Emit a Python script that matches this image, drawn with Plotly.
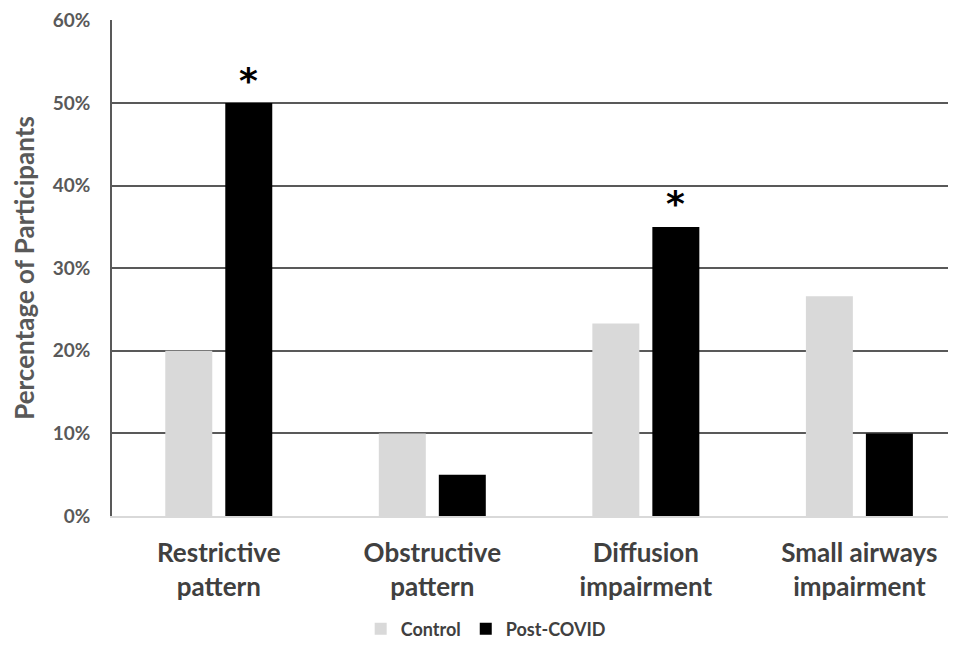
import plotly.graph_objects as go

categories = ["Restrictive<br>pattern", "Obstructive<br>pattern", "Diffusion<br>impairment", "Small airways<br>impairment"]
control = [20.0, 10.0, 23.3, 26.6]
post_covid = [50.0, 5.0, 35.0, 10.0]
significant = ["*", "", "*", ""]
y_ticks = [0, 10, 20, 30, 40, 50, 60]

fig = go.Figure()
fig.add_trace(go.Bar(x=categories, y=control, name="Control", marker=dict(color="#d9d9d9", line=dict(width=0))))
fig.add_trace(go.Bar(x=categories, y=post_covid, name="Post-COVID", marker=dict(color="#000000", line=dict(width=0))))

for i, s in enumerate(significant):
    if s:
        fig.add_annotation(x=categories[i], y=post_covid[i], text=s, showarrow=False,
                           xshift=30, yshift=23, font=dict(size=36, color="black", family="DejaVu Sans", weight="bold"))

fig.update_layout(
    width=940, height=638,
    margin=dict(l=104, r=0, t=12, b=130, autoexpand=False),
    paper_bgcolor="white", plot_bgcolor="white",
    barmode="group", bargap=0.438, bargroupgap=0.217,
    font=dict(family="Lato", color="#595959"),
    legend=dict(orientation="h", x=0.447, xanchor="center", y=-0.228, yanchor="middle",
                font=dict(size=18, color="#404040", family="Lato", weight="bold"), traceorder="normal"),
    xaxis=dict(range=[-0.5, 3.415], showgrid=False, showline=True, linecolor="#d9d9d9", linewidth=2,
               ticks="", automargin=False, ticklabelstandoff=13,
               tickfont=dict(size=26, color="#404040", family="Lato", weight="bold"), fixedrange=True),
    yaxis=dict(range=[0, 60.05], tickmode="array", tickvals=y_ticks, ticktext=[f"{v}%" for v in y_ticks],
               showgrid=True, gridcolor="#595959", gridwidth=1.5,
               showline=True, linecolor="#595959", linewidth=1.5, zeroline=False, automargin=False,
               ticklabelstandoff=16,
               tickfont=dict(size=19, color="#595959", family="Lato", weight="bold"),
               title=dict(text="Percentage of Participants", font=dict(size=26, color="#595959", family="Lato", weight="bold"))),
)
fig.write_html("out.html")
